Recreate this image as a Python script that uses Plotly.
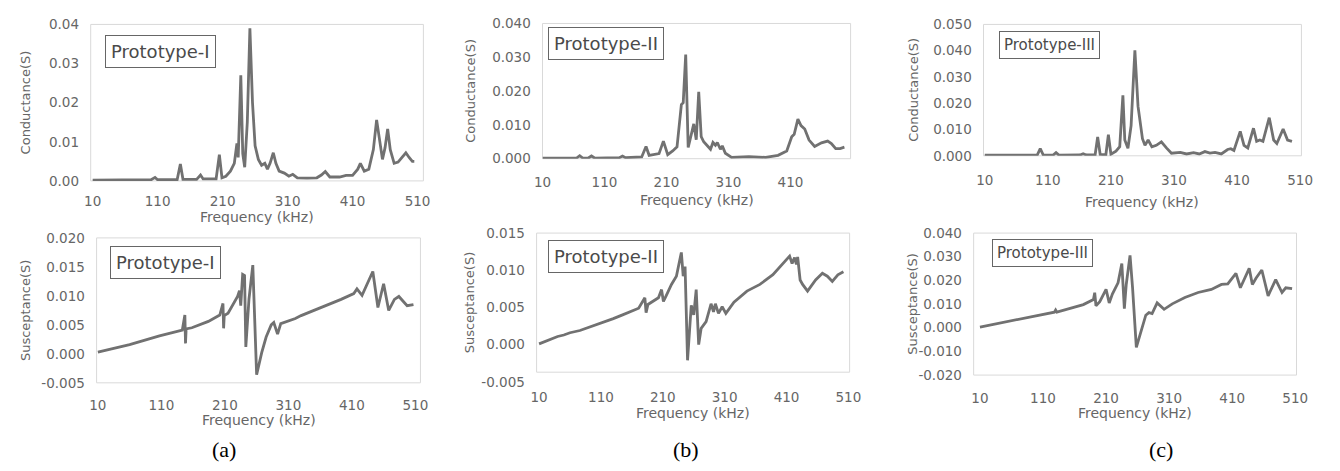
import plotly.graph_objects as go

# ---------------- data (frequency in kHz, admittance in S) ----------------
freq_a_g = [10, 60, 100, 106, 110, 140, 145, 149, 170, 176, 180, 200, 205, 209, 215, 222, 228, 232, 234,
            238, 241, 244, 248, 252, 256, 260, 265, 270, 275, 279, 283, 288, 292, 297, 305, 312, 318, 325,
            340, 355, 362, 368, 375, 390, 400, 410, 418, 422, 428, 435, 442, 447, 452, 456, 460, 464, 468,
            474, 480, 486, 492, 497, 502, 505]
cond_a = [0.0002, 0.0002, 0.0003, 0.0009, 0.0003, 0.0003, 0.0043, 0.0004, 0.0004, 0.0015, 0.0005, 0.0005,
          0.0067, 0.0008, 0.0012, 0.0025, 0.0045, 0.0096, 0.0060, 0.0270, 0.0070, 0.0035, 0.0150, 0.0390,
          0.0200, 0.0090, 0.0055, 0.0040, 0.0045, 0.0030, 0.0045, 0.0072, 0.0045, 0.0025, 0.0020, 0.0012,
          0.0017, 0.0008, 0.0007, 0.0008, 0.0015, 0.0024, 0.0010, 0.0010, 0.0014, 0.0014, 0.0030, 0.0045,
          0.0025, 0.0030, 0.0080, 0.0156, 0.0100, 0.0055, 0.0085, 0.0133, 0.0080, 0.0045, 0.0048, 0.0060,
          0.0072, 0.0060, 0.0050, 0.0050]

freq_a_b = [10, 60, 107, 143, 147, 148, 149, 158, 184, 202, 207, 208, 209, 215, 230, 233, 235, 238, 241,
            243, 248, 254, 260, 268, 275, 283, 287, 293, 298, 321, 330, 362, 370, 393, 413, 418, 426, 443,
            451, 460, 468, 477, 484, 490, 497, 507]
susc_a = [0.0003, 0.0016, 0.0031, 0.0041, 0.0067, 0.0018, 0.0043, 0.0045, 0.0056, 0.0067, 0.0087, 0.0044,
          0.0066, 0.0070, 0.0099, 0.0109, 0.0083, 0.0137, 0.0135, 0.0012, 0.0095, 0.0153, -0.0036, 0.0002,
          0.0029, 0.0050, 0.0054, 0.0034, 0.0052, 0.0061, 0.0066, 0.0080, 0.0083, 0.0094, 0.0104, 0.0112,
          0.0101, 0.0142, 0.0080, 0.0121, 0.0075, 0.0094, 0.0099, 0.0091, 0.0083, 0.0085]

freq_b_g = [10, 65, 70, 75, 84, 89, 94, 134, 139, 144, 170, 177, 182, 198, 205, 212, 220, 227, 234, 237,
            241, 245, 248, 254, 258, 262, 266, 270, 277, 281, 285, 289, 292, 297, 300, 305, 315, 343, 370,
            390, 404, 412, 416, 422, 427, 433, 440, 449, 460, 470, 476, 483, 490, 497]
cond_b = [0.0002, 0.0002, 0.0009, 0.0002, 0.0002, 0.0008, 0.0002, 0.0003, 0.0008, 0.0003, 0.0005, 0.0036,
          0.0010, 0.0015, 0.0052, 0.0012, 0.0023, 0.0035, 0.0160, 0.0166, 0.0308, 0.0033, 0.0056, 0.0103,
          0.0056, 0.0198, 0.0065, 0.0050, 0.0036, 0.0028, 0.0048, 0.0040, 0.0048, 0.0028, 0.0038, 0.0016,
          0.0004, 0.0006, 0.0004, 0.0010, 0.0023, 0.0065, 0.0072, 0.0117, 0.0098, 0.0088, 0.0055, 0.0036,
          0.0047, 0.0052, 0.0045, 0.0030, 0.0030, 0.0034]

freq_b_b = [10, 30, 40, 50, 60, 76, 90, 103, 115, 130, 145, 171, 181, 183, 186, 203, 208, 211, 215, 224,
            232, 240, 243, 246, 250, 256, 260, 264, 268, 272, 280, 288, 292, 295, 300, 306, 312, 325, 346,
            367, 388, 404, 415, 419, 423, 426, 428, 432, 436, 444, 457, 468, 476, 484, 493, 502]
susc_b = [0.0001, 0.0008, 0.0011, 0.0013, 0.0016, 0.0019, 0.0023, 0.0027, 0.0031, 0.0035, 0.0040, 0.0049,
          0.0063, 0.0043, 0.0054, 0.0063, 0.0074, 0.0058, 0.0065, 0.0081, 0.0092, 0.0124, 0.0092, 0.0105,
          -0.0021, 0.0053, 0.0040, 0.0074, 0.0000, 0.0022, 0.0031, 0.0055, 0.0044, 0.0055, 0.0042, 0.0051,
          0.0042, 0.0057, 0.0072, 0.0081, 0.0094, 0.0109, 0.0119, 0.0109, 0.0117, 0.0108, 0.0118, 0.0087,
          0.0081, 0.0072, 0.0087, 0.0096, 0.0092, 0.0085, 0.0094, 0.0098]

freq_c_g = [10, 93, 98, 103, 118, 123, 128, 161, 166, 171, 185, 189, 193, 202, 206, 210, 218, 224, 229,
            232, 237, 242, 248, 253, 260, 264, 269, 275, 282, 290, 298, 306, 320, 330, 341, 350, 359, 367,
            375, 385, 395, 400, 405, 415, 421, 427, 436, 441, 446, 451, 461, 468, 473, 483, 490, 497]
cond_c = [0.0002, 0.0002, 0.0027, 0.0002, 0.0002, 0.0012, 0.0002, 0.0003, 0.0008, 0.0003, 0.0004, 0.0072,
          0.0005, 0.0004, 0.0080, 0.0006, 0.0018, 0.0035, 0.0230, 0.0060, 0.0029, 0.0115, 0.0401, 0.0188,
          0.0065, 0.0040, 0.0060, 0.0034, 0.0040, 0.0053, 0.0030, 0.0010, 0.0013, 0.0007, 0.0012, 0.0007,
          0.0016, 0.0010, 0.0013, 0.0007, 0.0024, 0.0027, 0.0020, 0.0093, 0.0040, 0.0030, 0.0105, 0.0055,
          0.0060, 0.0055, 0.0145, 0.0060, 0.0047, 0.0102, 0.0060, 0.0055]

freq_c_b = [10, 60, 104, 128, 130, 132, 174, 190, 192, 194, 200, 210, 215, 220, 229, 235, 239, 242, 248,
            252, 258, 265, 273, 278, 283, 291, 302, 315, 335, 356, 377, 393, 403, 416, 423, 437, 442, 448,
            457, 467, 479, 489, 495, 505]
susc_c = [0.0003, 0.0029, 0.0053, 0.0066, 0.0075, 0.0066, 0.0098, 0.0119, 0.0148, 0.0093, 0.0110, 0.0162,
          0.0105, 0.0142, 0.0190, 0.0271, 0.0081, 0.0183, 0.0306, 0.0170, -0.0083, -0.0015, 0.0053, 0.0064,
          0.0060, 0.0105, 0.0078, 0.0101, 0.0128, 0.0149, 0.0162, 0.0183, 0.0185, 0.0230, 0.0169, 0.0251,
          0.0183, 0.0210, 0.0244, 0.0135, 0.0203, 0.0149, 0.0169, 0.0165]

freq_ticks = [10, 110, 210, 310, 410, 510]
panel_labels = ["Prototype-I", "Prototype-II", "Prototype-III"]
captions = ["(a)", "(b)", "(c)"]

# ---------------- layout helpers ----------------
W, H = 1340, 471
LINE = "#717171"
TICK_COL = "#666666"
FRAME = "#d9d9d9"
FONT = "DejaVu Sans"


def fx(px):
    return px / W


def fy(py):
    return 1 - py / H


# plot box in pixels: (left, right, top, bottom of the value range), bottom edge of the drawn frame,
# x range, y range, y step, y tick format, x tick length, x-title offset, y-title x, tag centre and size
panels = [
    dict(f=freq_a_g, v=cond_a, box=(83, 421, 17, 179), fb=179, xr=[7, 519], yr=[0, 0.04], dy=0.01,
         fmt=".2f", tl=8, xt=37, ytx=17, ytitle="Conductance(S)", label=panel_labels[0], tag=(154, 45), lsize=18),
    dict(f=freq_a_b, v=susc_a, box=(89, 418, 238, 388), fb=388, xr=[8, 518], yr=[-0.005, 0.02], dy=0.005,
         fmt=".3f", tl=10, xt=38, ytx=17, ytitle="Susceptance(S)", label=panel_labels[0], tag=(159, 263), lsize=18),
    dict(f=freq_b_g, v=cond_b, box=(542, 855, 16, 156), fb=156, xr=[10, 507], yr=[0, 0.04], dy=0.01,
         fmt=".3f", tl=11, xt=43, ytx=468, ytitle="Conductance(S)", label=panel_labels[1], tag=(607, 37), lsize=18),
    dict(f=freq_b_b, v=susc_b, box=(536, 854, 233, 387), fb=377, xr=[6, 512], yr=[-0.005, 0.015], dy=0.005,
         fmt=".3f", tl=3, xt=42, ytx=468, ytitle="Susceptance(S)", label=panel_labels[1], tag=(606, 257), lsize=18),
    dict(f=freq_c_g, v=cond_c, box=(990, 1313, 17, 153), fb=153, xr=[8, 512], yr=[0, 0.05], dy=0.01,
         fmt=".3f", tl=12, xt=48, ytx=918, ytitle="Conductance(S)", label=panel_labels[2], tag=(1057, 38), lsize=15),
    dict(f=freq_c_b, v=susc_c, box=(980, 1308, 233, 380), fb=380, xr=[0, 512], yr=[-0.02, 0.04], dy=0.01,
         fmt=".3f", tl=11, xt=39, ytx=917, ytitle="Susceptance(S)", label=panel_labels[2], tag=(1050, 254), lsize=15),
]

fig = go.Figure()
annotations = []
shapes = []
layout_axes = {}

for i, p in enumerate(panels, start=1):
    sfx = "" if i == 1 else str(i)
    l, r, t, b = p["box"]
    fig.add_trace(go.Scatter(x=p["f"], y=p["v"], mode="lines",
                             line=dict(color=LINE, width=2.8),
                             xaxis="x" + sfx, yaxis="y" + sfx, showlegend=False,
                             hoverinfo="skip"))
    n_y = round((p["yr"][1] - p["yr"][0]) / p["dy"])
    yticks = [round(p["yr"][0] + k * p["dy"], 4) for k in range(n_y + 1)]
    layout_axes["xaxis" + sfx] = dict(
        domain=[fx(l), fx(r)], range=p["xr"], anchor="y" + sfx,
        tickmode="array", tickvals=freq_ticks, ticktext=[str(v) for v in freq_ticks],
        showgrid=False, zeroline=False, showline=False,
        ticks="outside", ticklen=p["tl"], tickcolor="rgba(0,0,0,0)",
        tickfont=dict(family=FONT, size=13.5, color=TICK_COL), fixedrange=True)
    layout_axes["yaxis" + sfx] = dict(
        domain=[fy(b), fy(t)], range=p["yr"], anchor="x" + sfx,
        tickmode="array", tickvals=yticks, ticktext=[format(v, p["fmt"]) for v in yticks],
        showgrid=False, zeroline=False, showline=False,
        ticks="outside", ticklen=8, tickcolor="rgba(0,0,0,0)",
        tickfont=dict(family=FONT, size=13.5, color=TICK_COL), fixedrange=True)

    # light plot-area frame
    shapes.append(dict(type="rect", xref="paper", yref="paper", x0=fx(l), x1=fx(r), y0=fy(p["fb"]), y1=fy(t),
                       line=dict(color=FRAME, width=1), fillcolor="rgba(0,0,0,0)", layer="below"))

    # axis titles
    annotations.append(dict(text="Frequency (kHz)", x=fx((l + r) / 2), y=fy(p["fb"] + p["xt"]),
                            xref="paper", yref="paper", showarrow=False,
                            font=dict(family=FONT, size=14, color=TICK_COL),
                            xanchor="center", yanchor="middle"))
    annotations.append(dict(text=p["ytitle"], x=fx(p["ytx"]), y=fy((t + p["fb"]) / 2), xref="paper", yref="paper",
                            showarrow=False, textangle=-90, font=dict(family=FONT, size=13, color=TICK_COL),
                            xanchor="center", yanchor="middle"))

    # prototype tag in the upper-left corner of the panel
    cx, cy = p["tag"]
    annotations.append(dict(text=p["label"], x=fx(cx), y=fy(cy), xref="paper", yref="paper",
                            showarrow=False, xanchor="center", yanchor="middle",
                            font=dict(family=FONT, size=p["lsize"], color="#4a4a4a"),
                            bordercolor="#666666", borderwidth=1, borderpad=5 if p["lsize"] > 16 else 4,
                            bgcolor="white"))

# sub-figure captions
for cap, cx in zip(captions, [218, 688, 1170]):
    annotations.append(dict(text=cap, x=fx(cx), y=fy(457), xref="paper", yref="paper", showarrow=False,
                            xanchor="center", yanchor="middle",
                            font=dict(family="Liberation Serif", size=22, color="black")))

fig.update_layout(width=W, height=H, margin=dict(l=0, r=0, t=0, b=0),
                  paper_bgcolor="white", plot_bgcolor="white",
                  annotations=annotations, shapes=shapes, **layout_axes)

fig.write_html("out.html", config={"displayModeBar": False})
